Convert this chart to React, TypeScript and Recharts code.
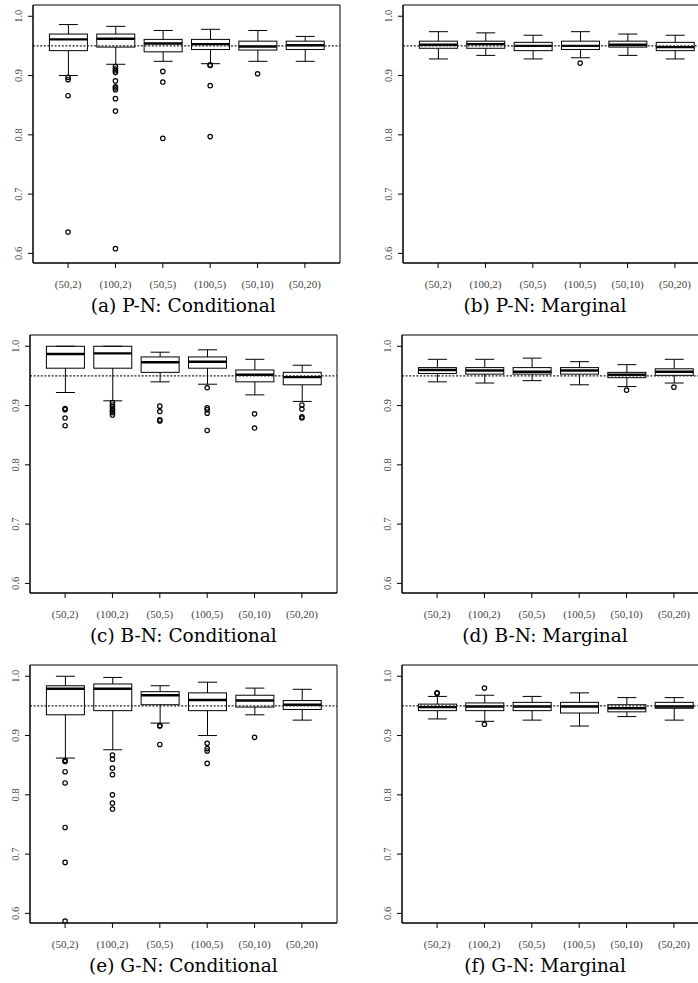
import React from 'react';
import { ComposedChart, Bar, Scatter, XAxis, YAxis, ReferenceLine, CartesianGrid } from 'recharts';

// Categories (n, p)
const categories = ['(50,2)', '(100,2)', '(50,5)', '(100,5)', '(50,10)', '(50,20)'];
const yTicks = [0.6, 0.7, 0.8, 0.9, 1.0];
const referenceLevel = 0.95;

// Each box: [lower whisker, Q1, median, Q3, upper whisker]
const pnConditionalBoxes = [
  [0.900, 0.942, 0.961, 0.970, 0.986],
  [0.919, 0.948, 0.962, 0.970, 0.983],
  [0.924, 0.940, 0.954, 0.961, 0.976],
  [0.920, 0.944, 0.953, 0.961, 0.978],
  [0.924, 0.943, 0.949, 0.958, 0.976],
  [0.924, 0.944, 0.951, 0.958, 0.966],
];
const pnConditionalOutliers = [
  [0.897, 0.893, 0.866, 0.636],
  [0.915, 0.911, 0.908, 0.905, 0.891, 0.881, 0.879, 0.876, 0.861, 0.840, 0.608],
  [0.907, 0.889, 0.794],
  [0.918, 0.917, 0.883, 0.797],
  [0.903],
  [],
];

const pnMarginalBoxes = [
  [0.928, 0.946, 0.952, 0.958, 0.974],
  [0.934, 0.946, 0.953, 0.958, 0.972],
  [0.928, 0.942, 0.950, 0.956, 0.968],
  [0.930, 0.944, 0.950, 0.958, 0.974],
  [0.934, 0.948, 0.952, 0.958, 0.970],
  [0.928, 0.942, 0.948, 0.956, 0.968],
];
const pnMarginalOutliers = [[], [], [], [0.921], [], []];

const bnConditionalBoxes = [
  [0.922, 0.963, 0.987, 1.000, 1.000],
  [0.908, 0.963, 0.988, 1.000, 1.000],
  [0.940, 0.956, 0.973, 0.982, 0.990],
  [0.936, 0.963, 0.974, 0.982, 0.994],
  [0.918, 0.940, 0.952, 0.960, 0.978],
  [0.907, 0.935, 0.948, 0.956, 0.968],
];
const bnConditionalOutliers = [
  [0.895, 0.893, 0.879, 0.866],
  [0.905, 0.901, 0.898, 0.894, 0.891, 0.888, 0.884],
  [0.899, 0.890, 0.876, 0.874],
  [0.930, 0.896, 0.893, 0.887, 0.858],
  [0.886, 0.862],
  [0.901, 0.894, 0.881, 0.879],
];

const bnMarginalBoxes = [
  [0.940, 0.954, 0.960, 0.964, 0.978],
  [0.938, 0.953, 0.959, 0.964, 0.978],
  [0.942, 0.953, 0.957, 0.964, 0.980],
  [0.935, 0.953, 0.959, 0.964, 0.974],
  [0.932, 0.947, 0.952, 0.956, 0.969],
  [0.938, 0.951, 0.957, 0.962, 0.978],
];
const bnMarginalOutliers = [[], [], [], [], [0.926], [0.931]];

const gnConditionalBoxes = [
  [0.862, 0.935, 0.979, 0.984, 1.000],
  [0.876, 0.942, 0.979, 0.987, 0.998],
  [0.921, 0.952, 0.968, 0.974, 0.984],
  [0.900, 0.942, 0.960, 0.972, 0.990],
  [0.935, 0.948, 0.959, 0.968, 0.980],
  [0.926, 0.944, 0.952, 0.959, 0.978],
];
const gnConditionalOutliers = [
  [0.858, 0.856, 0.839, 0.820, 0.745, 0.686, 0.587],
  [0.867, 0.860, 0.845, 0.834, 0.800, 0.786, 0.776],
  [0.917, 0.916, 0.885],
  [0.887, 0.878, 0.874, 0.853],
  [0.897],
  [],
];

const gnMarginalBoxes = [
  [0.928, 0.942, 0.948, 0.953, 0.966],
  [0.924, 0.942, 0.949, 0.955, 0.968],
  [0.926, 0.942, 0.949, 0.956, 0.966],
  [0.916, 0.938, 0.949, 0.956, 0.972],
  [0.932, 0.940, 0.946, 0.952, 0.964],
  [0.926, 0.946, 0.949, 0.956, 0.964],
];
const gnMarginalOutliers = [[0.972, 0.971], [0.980, 0.919], [], [], [], []];

const captions = [
  '(a) P-N: Conditional',
  '(b) P-N: Marginal',
  '(c) B-N: Conditional',
  '(d) B-N: Marginal',
  '(e) G-N: Conditional',
  '(f) G-N: Marginal',
];

const Y_DOMAIN: [number, number] = [0.5838, 1.019];
const TICK_FONT = "'Liberation Serif', 'Times New Roman', serif";
const CAPTION_FONT = "'DejaVu Serif', serif";

function BoxShape(props: any) {
  const { x, y, width, height, payload } = props;
  if (!payload || !payload.stats) return null;
  const [lo, q1, med, q3, hi] = payload.stats as number[];
  const span = hi - lo;
  const toY = (v: number) => (span === 0 ? y : y + (height * (hi - v)) / span);
  const cx = x + width / 2;
  const capHalf = width / 4;
  const yHi = toY(hi);
  const yQ3 = toY(q3);
  const yMed = toY(med);
  const yQ1 = toY(q1);
  const yLo = toY(lo);
  return (
    <g>
      <line x1={cx} x2={cx} y1={yHi} y2={yQ3} stroke="#000" strokeWidth={1} />
      <line x1={cx} x2={cx} y1={yQ1} y2={yLo} stroke="#000" strokeWidth={1} />
      <line x1={cx - capHalf} x2={cx + capHalf} y1={yHi} y2={yHi} stroke="#000" strokeWidth={1} />
      <line x1={cx - capHalf} x2={cx + capHalf} y1={yLo} y2={yLo} stroke="#000" strokeWidth={1} />
      <rect x={x} y={yQ3} width={width} height={Math.max(0, yQ1 - yQ3)} fill="none" stroke="#000" strokeWidth={1} />
      <line x1={x} x2={x + width} y1={yMed} y2={yMed} stroke="#000" strokeWidth={2.4} />
    </g>
  );
}

function OutlierShape(props: any) {
  const { cx, cy } = props;
  if (cx == null || cy == null) return null;
  return <circle cx={cx} cy={cy} r={2.2} fill="none" stroke="#000" strokeWidth={1.2} />;
}

function YTick(props: any) {
  const { x, y, payload } = props;
  return (
    <text
      x={x}
      y={y}
      transform={`rotate(-90 ${x} ${y})`}
      textAnchor="middle"
      fontSize={10.5}
      fontFamily={TICK_FONT}
      fill="#444"
    >
      {Number(payload.value).toFixed(1)}
    </text>
  );
}

// Frame lines follow the plot area that the library computes.
const frameH = (p: any) => [p.offset.top, p.offset.top + p.offset.height];
const frameV = (p: any) => [p.offset.left, p.offset.left + p.offset.width];

function Panel({ boxes, outliers, left, top }: { boxes: number[][]; outliers: number[][]; left: number; top: number }) {
  const data = categories.map((cat, i) => ({
    cat,
    stats: boxes[i],
    range: [boxes[i][0], boxes[i][4]],
  }));
  const points = outliers.flatMap((vals, i) => vals.map((v) => ({ cat: categories[i], v })));
  return (
    <div style={{ position: 'absolute', left: left - 30, top: top - 1 }}>
      <ComposedChart width={340} height={300} data={data} margin={{ top: 1, right: 3, bottom: 0, left: 0 }}>
        <CartesianGrid
          stroke="#000"
          strokeWidth={1}
          fill="none"
          horizontalCoordinatesGenerator={frameH}
          verticalCoordinatesGenerator={frameV}
        />
        <XAxis
          dataKey="cat"
          type="category"
          allowDuplicatedCategory={false}
          padding={{ left: 11.4, right: 11.4 }}
          height={41}
          tickSize={5}
          tickMargin={12}
          interval={0}
          stroke="#000"
          tick={{ fill: '#444', fontSize: 11, fontFamily: TICK_FONT }}
        />
        <YAxis
          type="number"
          domain={Y_DOMAIN}
          allowDataOverflow
          ticks={yTicks}
          interval={0}
          width={30}
          tickSize={5}
          tickMargin={6}
          stroke="#000"
          tick={<YTick />}
        />
        <Bar dataKey="range" barSize={38} shape={<BoxShape />} isAnimationActive={false} />
        <Scatter data={points} dataKey="v" shape={<OutlierShape />} isAnimationActive={false} />
        <ReferenceLine y={referenceLevel} stroke="#222" strokeWidth={1.2} strokeDasharray="2 1.6" />
      </ComposedChart>
    </div>
  );
}

const panels = [
  { boxes: pnConditionalBoxes, outliers: pnConditionalOutliers, left: 33, top: 5 },
  { boxes: pnMarginalBoxes, outliers: pnMarginalOutliers, left: 403, top: 5 },
  { boxes: bnConditionalBoxes, outliers: bnConditionalOutliers, left: 30, top: 335 },
  { boxes: bnMarginalBoxes, outliers: bnMarginalOutliers, left: 401.5, top: 335 },
  { boxes: gnConditionalBoxes, outliers: gnConditionalOutliers, left: 30, top: 665 },
  { boxes: gnMarginalBoxes, outliers: gnMarginalOutliers, left: 401.5, top: 665 },
];

const captionLayout = [
  { x: 183.3, y: 312 },
  { x: 545, y: 312 },
  { x: 183.3, y: 642 },
  { x: 545, y: 642 },
  { x: 183.3, y: 972 },
  { x: 545, y: 972 },
];

export default function App() {
  return (
    <div
      style={{
        position: 'absolute',
        left: 0,
        top: 0,
        width: 698,
        height: 983,
        overflow: 'hidden',
        background: '#fff',
      }}
    >
      {panels.map((p, i) => (
        <Panel key={i} boxes={p.boxes} outliers={p.outliers} left={p.left} top={p.top} />
      ))}
      <svg width={698} height={983} style={{ position: 'absolute', left: 0, top: 0, pointerEvents: 'none' }}>
        {captions.map((c, i) => (
          <text
            key={c}
            x={captionLayout[i].x}
            y={captionLayout[i].y}
            textAnchor="middle"
            fontSize={18.5}
            fontFamily={CAPTION_FONT}
            fill="#000"
          >
            {c}
          </text>
        ))}
      </svg>
    </div>
  );
}
